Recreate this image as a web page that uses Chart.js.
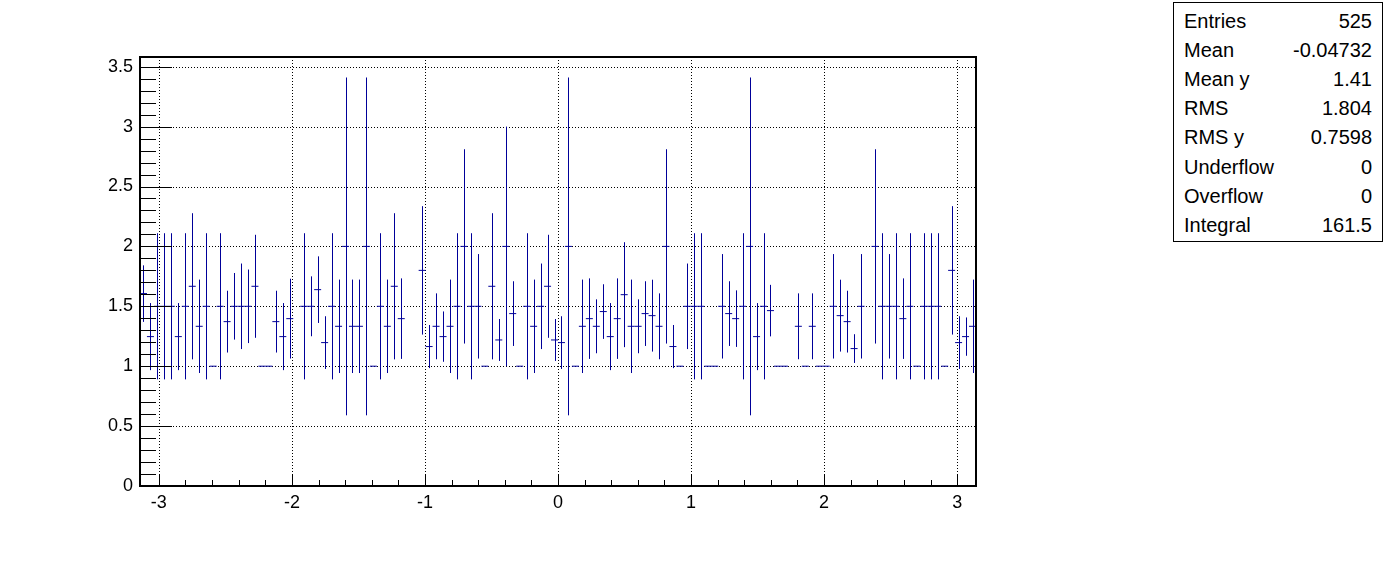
<!DOCTYPE html>
<html>
<head>
<meta charset="utf-8">
<script src="https://cdn.jsdelivr.net/npm/chart.js@4/dist/chart.umd.min.js"></script>
<style>
  html, body { margin: 0; padding: 0; background: #fff; }
  #wrap { position: relative; width: 1396px; height: 572px; }
  #stats {
    position: absolute; left: 1173px; top: 2px; width: 208px; height: 238px;
    border: 1px solid #000; background: #fff;
    font-family: "Liberation Sans", Arial, sans-serif; font-size: 20px; color: #000;
  }
  #stats div { position: absolute; left: 10px; right: 10px; height: 22px; line-height: 22px; }
  #stats span.v { position: absolute; right: 0; }
</style>
</head>
<body>
<div id="wrap">
  <canvas id="chart" width="1396" height="572"></canvas>
  <div id="stats"></div>
</div>
<script>
// profile binning
const nBins = 120;
const xMin = -Math.PI;
const xMax = Math.PI;

// bin means (null = empty bin)
const binMeans = [
  1.606, 1.247, 1.5, 1.5, 1.5, 1.247, 1.5, 1.667, 1.333, 1.5,
  1.0, 1.5, 1.372, 1.5, 1.5, 1.5, 1.667, 1.0, 1.0, 1.372,
  1.247, 1.397, null, 1.5, 1.5, 1.639, 1.197, 1.5, 1.333, 2.0,
  1.333, 1.333, 2.0, 1.0, 1.5, 1.333, 1.667, 1.397, null, null,
  1.8, 1.164, 1.333, 1.247, 1.333, 1.5, 2.0, 1.5, 1.5, 1.0,
  1.667, 1.219, 2.0, 1.439, 1.0, 1.5, 1.333, 1.5, 1.667, 1.219,
  1.197, 2.0, 1.0, 1.333, 1.397, 1.333, 1.456, 1.247, 1.397, 1.597,
  1.333, 1.333, 1.439, 1.422, 1.333, 2.0, 1.164, 1.0, 1.5, 1.5,
  1.5, 1.0, 1.0, 1.5, 1.439, 1.397, 1.5, 2.0, 1.247, 1.5,
  1.464, 1.0, 1.0, null, 1.333, 1.0, 1.333, 1.0, 1.0, 1.5,
  1.422, 1.372, 1.147, 1.5, null, 2.0, 1.5, 1.5, 1.5, 1.397,
  1.5, 1.0, 1.5, 1.5, 1.5, 1.0, 1.8, 1.197, 1.247, 1.333
];

// bin errors
const binErrors = [
  0.236, 0.28, 0.61, 0.61, 0.61, 0.28, 0.61, 0.61, 0.39, 0.61,
  0, 0.61, 0.258, 0.278, 0.357, 0.307, 0.43, 0, 0, 0.258,
  0.28, 0.333, 0, 0.61, 0.25, 0.278, 0.22, 0.61, 0.39, 1.41,
  0.39, 0.39, 1.41, 0, 0.61, 0.39, 0.61, 0.336, 0, 0,
  0.536, 0.18, 0.275, 0.21, 0.39, 0.61, 0.811, 0.61, 0.436, 0,
  0.61, 0.175, 1.0, 0.27, 0, 0.61, 0.39, 0.357, 0.43, 0.175,
  0.22, 1.41, 0, 0.39, 0.336, 0.225, 0.228, 0.28, 0.336, 0.438,
  0.39, 0.225, 0.27, 0.3, 0.275, 0.811, 0.18, 0, 0.357, 0.61,
  0.61, 0, 0, 0.436, 0.27, 0.236, 0.61, 1.41, 0.28, 0.61,
  0.215, 0, 0, 0, 0.275, 0, 0.275, 0, 0, 0.436,
  0.3, 0.258, 0.12, 0.436, 0, 0.811, 0.61, 0.436, 0.61, 0.336,
  0.61, 0, 0.61, 0.61, 0.61, 0, 0.536, 0.22, 0.16, 0.39
];

const xTicks = [-3, -2, -1, 0, 1, 2, 3];
const yTicks = [0, 0.5, 1, 1.5, 2, 2.5, 3, 3.5];
const yMax = 3.581;

const statLabels = ['Entries', 'Mean', 'Mean y', 'RMS', 'RMS y', 'Underflow', 'Overflow', 'Integral'];
const statValues = ['525', '-0.04732', '1.41', '1.804', '0.7598', '0', '0', '161.5'];

const lineColor = '#000099';
const binWidth = (xMax - xMin) / nBins;

const points = binMeans.map((m, k) => ({ x: xMin + (k + 0.5) * binWidth, y: m }));

// stats box
const statsEl = document.getElementById('stats');
statLabels.forEach((lab, i) => {
  const row = document.createElement('div');
  row.style.top = (7 + i * 29.1) + 'px';
  row.innerHTML = `${lab}<span class="v">${statValues[i]}</span>`;
  statsEl.appendChild(row);
});

const frameAndBars = {
  id: 'frameAndBars',
  beforeDatasetsDraw(chart) {
    const { ctx, chartArea: a, scales: { x, y } } = chart;
    ctx.save();
    // dotted grid
    ctx.strokeStyle = '#000';
    ctx.lineWidth = 1;
    ctx.setLineDash([1, 2]);
    ctx.beginPath();
    xTicks.forEach(v => {
      const px = Math.round(x.getPixelForValue(v)) + 0.5;
      ctx.moveTo(px, a.top); ctx.lineTo(px, a.bottom);
    });
    yTicks.forEach(v => {
      if (v === 0) return;
      const py = Math.round(y.getPixelForValue(v)) + 0.5;
      ctx.moveTo(a.left, py); ctx.lineTo(a.right, py);
    });
    ctx.stroke();
    ctx.setLineDash([]);

    // error bars
    ctx.strokeStyle = lineColor;
    ctx.beginPath();
    points.forEach((p, k) => {
      if (p.y === null || !binErrors[k]) return;
      const px = Math.round(x.getPixelForValue(p.x)) + 0.5;
      ctx.moveTo(px, y.getPixelForValue(p.y + binErrors[k]));
      ctx.lineTo(px, y.getPixelForValue(p.y - binErrors[k]));
    });
    ctx.stroke();
    ctx.restore();
  },
  afterDatasetsDraw(chart) {
    const { ctx, chartArea: a, scales: { x, y } } = chart;
    ctx.save();
    ctx.strokeStyle = '#000';
    ctx.lineWidth = 1;
    ctx.beginPath();
    // y ticks (inside)
    for (let i = 0; i <= 35; i++) {
      const v = i / 10;
      const py = Math.round(y.getPixelForValue(v)) + 0.5;
      const len = i % 5 === 0 ? 32 : 16;
      ctx.moveTo(a.left, py); ctx.lineTo(a.left + len, py);
    }
    // x ticks (inside)
    for (let i = -15; i <= 15; i++) {
      const v = i / 5;
      const px = Math.round(x.getPixelForValue(v)) + 0.5;
      const len = i % 5 === 0 ? 12 : 6;
      ctx.moveTo(px, a.bottom); ctx.lineTo(px, a.bottom - len);
    }
    ctx.stroke();
    // frame
    ctx.lineWidth = 2;
    ctx.strokeRect(a.left, a.top, a.right - a.left, a.bottom - a.top);
    ctx.restore();
  }
};

new Chart(document.getElementById('chart'), {
  type: 'scatter',
  data: {
    datasets: [{
      data: points,
      pointStyle: 'line',
      radius: 3.5,
      borderColor: lineColor,
      backgroundColor: lineColor,
      borderWidth: 1,
      showLine: false
    }]
  },
  options: {
    responsive: false,
    animation: false,
    events: [],
    layout: { padding: { left: 0, right: 420, top: 57, bottom: 0 } },
    plugins: { legend: { display: false }, tooltip: { enabled: false } },
    scales: {
      x: {
        type: 'linear',
        min: xMin,
        max: xMax,
        afterBuildTicks: s => { s.ticks = xTicks.map(v => ({ value: v })); },
        afterFit: s => { s.height = 86; },
        grid: { display: false, drawTicks: false },
        border: { display: false },
        ticks: {
          callback: v => String(v),
          color: '#000',
          padding: 6,
          maxRotation: 0,
          font: { family: 'Liberation Sans', size: 18 }
        }
      },
      y: {
        type: 'linear',
        min: 0,
        max: yMax,
        afterBuildTicks: s => { s.ticks = yTicks.map(v => ({ value: v })); },
        afterFit: s => { s.width = 140; },
        grid: { display: false, drawTicks: false },
        border: { display: false },
        ticks: {
          callback: v => String(v),
          color: '#000',
          padding: 7,
          font: { family: 'Liberation Sans', size: 18 }
        }
      }
    }
  },
  plugins: [frameAndBars]
});
</script>
</body>
</html>
